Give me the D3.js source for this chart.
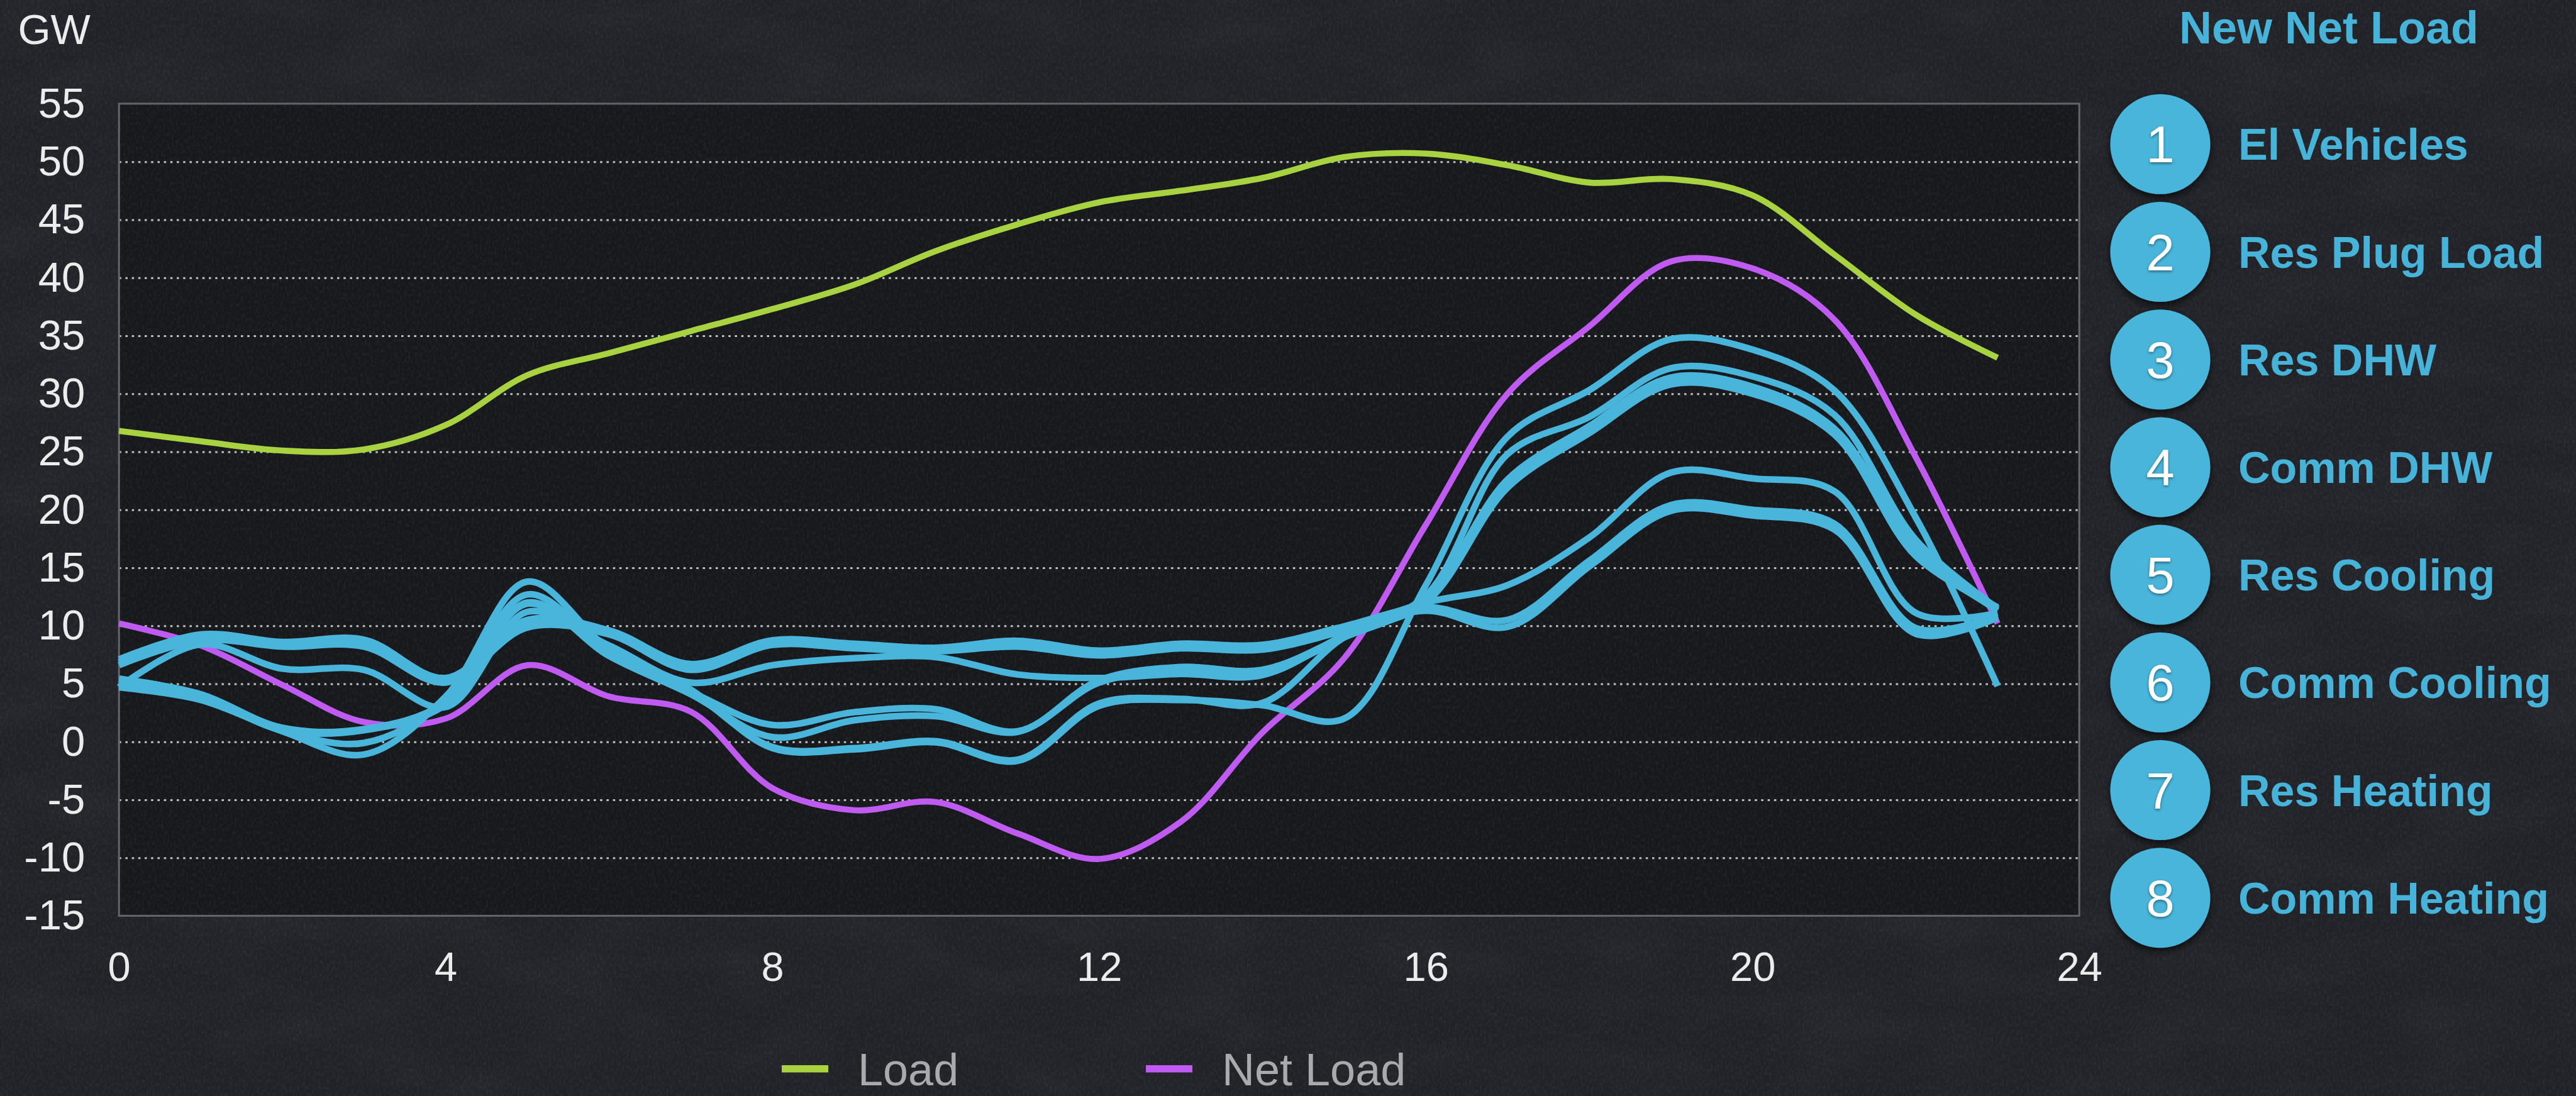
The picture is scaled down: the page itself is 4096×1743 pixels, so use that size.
<!DOCTYPE html>
<html>
<head>
<meta charset="utf-8">
<script src="https://cdn.jsdelivr.net/npm/d3@7"></script>
<style>
  html, body { margin: 0; padding: 0; background: #202228; overflow: hidden; }
  svg { display: block; }
</style>
</head>
<body>
<svg id="chart" width="4096" height="1743"></svg>
<script>
// ---- data -------------------------------------------------------------
const hours = [0, 1, 2, 3, 4, 5, 6, 7, 8, 9, 10, 11, 12, 13, 14, 15, 16, 17, 18, 19, 20, 21, 22, 23];

const xTicks = [0, 4, 8, 12, 16, 20, 24];
const yTicks = [-15, -10, -5, 0, 5, 10, 15, 20, 25, 30, 35, 40, 45, 50, 55];

// Hourly system load and net load, GW
const loadGW    = [26.8, 25.9, 25.1, 25.2, 27.3, 31.6, 33.5, 35.4, 37.3, 39.4, 42.3, 44.6,
                   46.5, 47.5, 48.6, 50.4, 50.7, 49.7, 48.2, 48.5, 47.1, 42.0, 36.8, 33.1];
const netLoadGW = [10.2, 8.3, 4.9, 1.7, 2.0, 6.6, 3.9, 2.6, -4.0, -5.9, -5.2, -7.9,
                   -10.1, -6.9, 0.8, 7.2, 18.7, 30.0, 35.8, 41.4, 40.8, 36.4, 24.5, 10.2];

// New net load for each end use, GW
const elVehicles  = [4.7, 8.4, 6.3, 6.2, 3.0, 11.2, 8.3, 5.1, 6.6, 7.2, 7.3, 5.8,
                     5.5, 5.85, 5.75, 9.2, 12.6, 24.8, 28.0, 32.2, 31.5, 28.2, 17.4, 11.5];
const resPlugLoad = [5.45, 4.1, 1.2, 1.1, 3.4, 12.0, 7.5, 4.3, 1.45, 2.55, 2.8, 0.9,
                     5.3, 6.45, 6.2, 9.1, 12.4, 22.6, 27.2, 31.4, 30.6, 27.0, 16.7, 11.3];
const resDHW      = [7.1, 9.25, 8.6, 8.8, 5.5, 10.5, 9.6, 6.7, 8.75, 8.45, 8.1, 8.7,
                     7.85, 8.45, 8.35, 9.95, 11.6, 10.5, 15.6, 20.4, 20.0, 18.8, 9.8, 10.9];
const commDHW     = [6.6, 8.75, 8.2, 8.2, 5.1, 9.85, 9.25, 6.2, 8.35, 8.05, 7.8, 8.2,
                     7.45, 8.05, 7.95, 9.55, 11.3, 9.9, 15.1, 19.9, 19.5, 18.3, 9.3, 10.7];
const resCooling  = [4.7, 3.6, 0.9, -1.1, 3.9, 13.8, 8.0, 4.5, -0.55, -0.65, -0.05, -1.65,
                     3.1, 3.6, 3.15, 2.0, 13.5, 26.3, 30.3, 34.7, 33.8, 30.3, 19.3, 4.8];
const commCooling = [4.95, 3.8, 0.95, -0.1, 3.6, 12.7, 7.7, 4.3, -0.45, -0.55, 0.05, -1.55,
                     3.3, 3.7, 3.35, 9.0, 12.0, 21.9, 26.6, 30.8, 30.0, 26.5, 16.0, 11.6];
const resHeating  = [6.85, 9.0, 8.4, 8.5, 5.3, 10.2, 9.4, 6.45, 8.55, 8.25, 7.95, 8.45,
                     7.65, 8.25, 8.15, 9.75, 12.0, 13.5, 17.6, 23.2, 22.7, 21.6, 11.1, 11.1];
const commHeating = [5.2, 3.9, 1.0, 1.0, 3.2, 11.9, 7.4, 4.1, 0.4, 1.85, 2.2, 0.85,
                     5.1, 6.1, 5.95, 9.0, 12.2, 22.1, 26.8, 31.0, 30.2, 26.7, 16.3, 11.4];

const newNetSeries = [elVehicles, resPlugLoad, resDHW, commDHW, resCooling, commCooling, resHeating, commHeating];
const newNetNames  = ["El Vehicles", "Res Plug Load", "Res DHW", "Comm DHW",
                      "Res Cooling", "Comm Cooling", "Res Heating", "Comm Heating"];
const bottomLegendNames = ["Load", "Net Load"];

// ---- styling ----------------------------------------------------------
const W = 4096, H = 1743;
const margin = { left: 189.2, top: 164.9, right: 3306.2, bottom: 1456.4 };
const loadColor = "#a8d23f";
const netColor  = "#c05bf1";
const newColor  = "#4ab5da";
const textFont  = "'Liberation Sans', Arial, Helvetica, sans-serif";

const svg = d3.select("#chart");
const defs = svg.append("defs");

// slate texture: faint soft mottling plus a fine fibrous grain
const mottle = defs.append("filter").attr("id", "mottle")
  .attr("filterUnits", "userSpaceOnUse").attr("x", 0).attr("y", 0).attr("width", W).attr("height", H);
mottle.append("feTurbulence").attr("type", "fractalNoise")
  .attr("baseFrequency", "0.006 0.012").attr("numOctaves", 4).attr("seed", 11);
mottle.append("feColorMatrix").attr("type", "matrix")
  .attr("values", "0 0 0 0 0.5  0 0 0 0 0.52  0 0 0 0 0.58  0.5 0 0 0 -0.2");

const grain = defs.append("filter").attr("id", "grain")
  .attr("filterUnits", "userSpaceOnUse").attr("x", 0).attr("y", 0).attr("width", W).attr("height", H);
grain.append("feTurbulence").attr("type", "fractalNoise")
  .attr("baseFrequency", "0.3 0.18").attr("numOctaves", 2).attr("seed", 4);
grain.append("feColorMatrix").attr("type", "matrix")
  .attr("values", "0 0 0 0 0.55  0 0 0 0 0.58  0 0 0 0 0.65  0.7 0 0 0 -0.28");

const shadow = defs.append("filter").attr("id", "dropShadow")
  .attr("x", "-40%").attr("y", "-40%").attr("width", "180%").attr("height", "190%");
shadow.append("feDropShadow").attr("dx", 0).attr("dy", 6).attr("stdDeviation", 6)
  .attr("flood-color", "#000").attr("flood-opacity", 0.6);

const textShadow = defs.append("filter").attr("id", "textShadow")
  .attr("x", "-20%").attr("y", "-20%").attr("width", "140%").attr("height", "150%");
textShadow.append("feDropShadow").attr("dx", 0).attr("dy", 2).attr("stdDeviation", 2)
  .attr("flood-color", "#000").attr("flood-opacity", 0.45);

// ---- background -------------------------------------------------------
svg.append("rect").attr("width", W).attr("height", H).attr("fill", "#202227");
svg.append("rect").attr("width", W).attr("height", H).attr("filter", "url(#mottle)").attr("opacity", 0.14);
svg.append("rect")
  .attr("x", margin.left).attr("y", margin.top)
  .attr("width", margin.right - margin.left).attr("height", margin.bottom - margin.top)
  .attr("fill", "#15161a").attr("opacity", 0.85);
svg.append("rect").attr("width", W).attr("height", H).attr("filter", "url(#grain)").attr("opacity", 0.22);

// ---- scales -----------------------------------------------------------
const x = d3.scaleLinear().domain([0, 24]).range([margin.left, margin.right]);
const y = d3.scaleLinear().domain([-15, 55]).range([margin.bottom, margin.top]);

// dotted horizontal grid
const grid = svg.append("g").attr("transform", `translate(${margin.left},0)`)
  .call(d3.axisLeft(y)
    .tickValues(yTicks.filter(v => v > y.domain()[0] && v < y.domain()[1]))
    .tickSize(-(margin.right - margin.left))
    .tickFormat(""));
grid.select(".domain").remove();
grid.selectAll("line")
  .attr("stroke", "#d2d2d2").attr("stroke-width", 3)
  .attr("stroke-dasharray", "3.6 6.6").attr("opacity", 0.9);

// plot frame
svg.append("rect")
  .attr("x", margin.left).attr("y", margin.top)
  .attr("width", margin.right - margin.left).attr("height", margin.bottom - margin.top)
  .attr("fill", "none").attr("stroke", "#64656b").attr("stroke-width", 3);

// axes
const yAxis = svg.append("g").attr("transform", `translate(${margin.left},0)`)
  .call(d3.axisLeft(y).tickValues(yTicks).tickSize(0).tickPadding(54).tickFormat(d => String(d)));
yAxis.select(".domain").remove();
yAxis.attr("font-size", 67).attr("font-family", textFont).attr("color", "#ececec");

const xAxis = svg.append("g").attr("transform", `translate(0,${margin.bottom})`)
  .call(d3.axisBottom(x).tickValues(xTicks).tickSize(0).tickPadding(57).tickFormat(d => String(d)));
xAxis.select(".domain").remove();
xAxis.attr("font-size", 65).attr("font-family", textFont).attr("color", "#ececec");

svg.append("text").attr("x", 28.5).attr("y", 69.5)
  .attr("font-family", textFont).attr("font-size", 67).attr("fill", "#ececec")
  .text("GW");

// ---- lines ------------------------------------------------------------
const lineGen = d3.line()
  .x((d, i) => x(hours[i]))
  .y(d => y(d))
  .curve(d3.curveCatmullRom.alpha(0.5));

const lines = svg.append("g").attr("fill", "none")
  .attr("stroke-linecap", "butt").attr("stroke-linejoin", "round");

lines.append("path").attr("d", lineGen(netLoadGW))
  .attr("stroke", netColor).attr("stroke-width", 9.6);

lines.selectAll("path.newnet").data(newNetSeries).join("path")
  .attr("class", "newnet")
  .attr("d", d => lineGen(d))
  .attr("stroke", newColor).attr("stroke-width", 10.5);

lines.append("path").attr("d", lineGen(loadGW))
  .attr("stroke", loadColor).attr("stroke-width", 9.6);

// ---- right-hand legend ------------------------------------------------
const legendCx = 3435, legendTop = 229.3, legendStep = 171.2, legendR = 79.5;

svg.append("text").attr("x", 3703).attr("y", 68.6).attr("text-anchor", "middle")
  .attr("font-family", textFont).attr("font-weight", "bold").attr("font-size", 72)
  .attr("fill", "#47b3d8").text("New Net Load");

const items = svg.append("g").selectAll("g").data(newNetNames).join("g")
  .attr("transform", (d, i) => `translate(${legendCx},${legendTop + i * legendStep})`);

items.append("circle").attr("r", legendR).attr("fill", newColor).attr("filter", "url(#dropShadow)");
items.append("text").attr("text-anchor", "middle").attr("y", 0.358 * 81)
  .attr("font-family", textFont).attr("font-size", 81).attr("fill", "#ffffff")
  .attr("filter", "url(#textShadow)")
  .text((d, i) => String(i + 1));
items.append("text").attr("x", 3559 - legendCx).attr("y", 0.358 * 70)
  .attr("font-family", textFont).attr("font-weight", "bold").attr("font-size", 70)
  .attr("fill", "#47b3d8")
  .text(d => d);

// ---- bottom legend ----------------------------------------------------
const bottomColors = [loadColor, netColor];
const bottomX = 1243, bottomGap = 579;
const bl = svg.append("g").selectAll("g").data(bottomLegendNames).join("g")
  .attr("transform", (d, i) => `translate(${bottomX + i * bottomGap},0)`);
bl.append("rect").attr("x", 0).attr("y", 1694).attr("width", 74).attr("height", 11.5)
  .attr("fill", (d, i) => bottomColors[i]);
bl.append("text").attr("x", 121).attr("y", 1726)
  .attr("font-family", textFont).attr("font-size", 72).attr("fill", "#a9aaae")
  .text(d => d);
</script>
</body>
</html>
